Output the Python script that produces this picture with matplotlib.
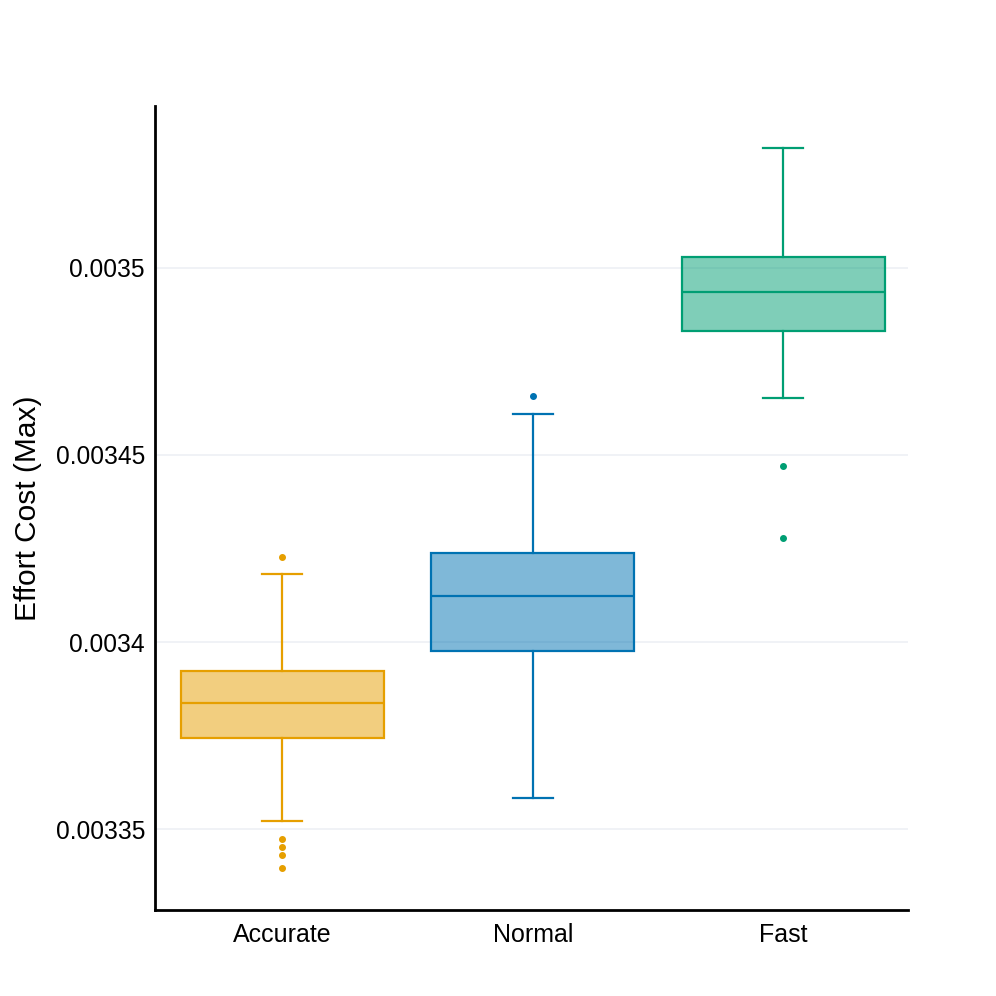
import matplotlib

matplotlib.use("Agg")
import matplotlib.pyplot as plt
from matplotlib.colors import to_rgba

plt.rcParams["font.family"] = ["Liberation Sans", "DejaVu Sans"]

# Box statistics (Effort Cost, max)
categories = ["Accurate", "Normal", "Fast"]
whisker_low = [0.0033521, 0.0033583, 0.0034653]
q1 = [0.0033745, 0.0033975, 0.0034832]
median = [0.0033836, 0.0034124, 0.0034936]
q3 = [0.0033924, 0.0034237, 0.0035029]
whisker_high = [0.0034183, 0.0034608, 0.0035320]
outliers = [
    [0.0034226, 0.0033473, 0.0033452, 0.0033430, 0.0033396],
    [0.0034656],
    [0.0034469, 0.0034279],
]
colors = ["#E69F00", "#0072B2", "#009E73"]

yticks = [0.00335, 0.0034, 0.00345, 0.0035]
ytick_labels = ["0.00335", "0.0034", "0.00345", "0.0035"]

fig = plt.figure(figsize=(9.96, 9.96), dpi=100)
ax = fig.add_axes([0.156, 0.086, 0.756, 0.808])

stats = []
for i, name in enumerate(categories):
    stats.append({
        "label": name,
        "whislo": whisker_low[i],
        "q1": q1[i],
        "med": median[i],
        "q3": q3[i],
        "whishi": whisker_high[i],
        "fliers": outliers[i],
    })

positions = list(range(len(categories)))
for i, st in enumerate(stats):
    c = colors[i]
    ax.bxp(
        [st],
        positions=[positions[i]],
        widths=0.81,
        patch_artist=True,
        showfliers=True,
        boxprops=dict(facecolor=to_rgba(c, 0.5), edgecolor=c, linewidth=1.6),
        medianprops=dict(color=c, linewidth=1.6),
        whiskerprops=dict(color=c, linewidth=1.6),
        capprops=dict(color=c, linewidth=1.6),
        capwidths=0.16,
        flierprops=dict(marker="o", markerfacecolor=c, markeredgecolor=c,
                        markersize=4, linestyle="none"),
        zorder=3,
    )

ax.set_xlim(-0.507, 2.5)
ax.set_ylim(0.00332835, 0.0035433)
ax.set_xticks(positions)
ax.set_xticklabels(categories, fontsize=18)
ax.set_yticks(yticks)
ax.set_yticklabels(ytick_labels, fontsize=17.7)
ax.tick_params(axis="y", length=0, pad=7.5)
ax.tick_params(axis="x", length=0, pad=9)
ax.set_ylabel("Effort Cost (Max)", fontsize=21.5, labelpad=10)

ax.grid(axis="y", color="#edf0f5", linewidth=1.2, zorder=0)
ax.set_axisbelow(True)
for side in ["top", "right"]:
    ax.spines[side].set_visible(False)
for side in ["left", "bottom"]:
    ax.spines[side].set_linewidth(2)
    ax.spines[side].set_color("black")

fig.savefig("out.png", dpi=100)
plt.close(fig)
